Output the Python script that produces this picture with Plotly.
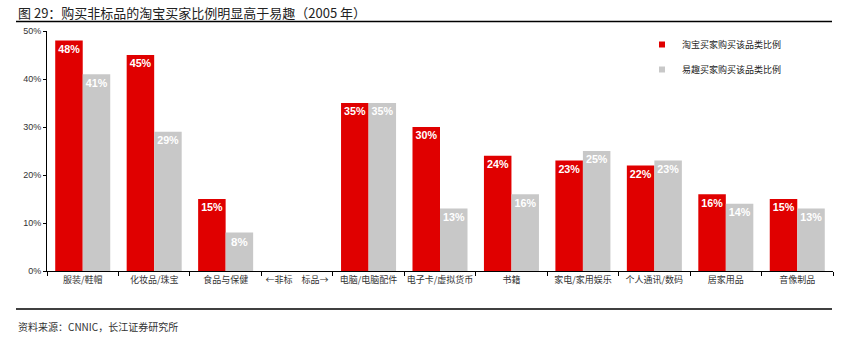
import plotly.graph_objects as go

categories = ["服装/鞋帽", "化妆品/珠宝", "食品与保健", "←非标　标品→", "电脑/电脑配件",
              "电子卡/虚拟货币", "书籍", "家电/家用娱乐", "个人通讯/数码", "居家用品", "音像制品"]
taobao = [48, 45, 15, None, 35, 30, 24, 23, 22, 16, 15]
eachnet = [41, 29, 8, None, 35, 13, 16, 25, 23, 14, 13]
series_names = ["淘宝买家购买该品类比例", "易趣买家购买该品类比例"]
series_colors = ["#E00000", "#C8C8C8"]
y_ticks = [0, 10, 20, 30, 40, 50]
y_tick_labels = ["0%", "10%", "20%", "30%", "40%", "50%"]

FONT = "Liberation Sans, Noto Sans CJK SC, sans-serif"
CJK = "Noto Sans CJK SC, sans-serif"

PW = 786  # plot width px
PH = 240  # plot height px
L, T = 47, 31


def px_x(x):
    return (x - L) / PW


def px_y(y):
    return (T + PH - y) / PH


fig = go.Figure()
for vals, name, color, grp in zip([taobao, eachnet], series_names, series_colors, ["a", "b"]):
    labels = [("" if v is None else f"{v}%") for v in vals]
    fig.add_trace(go.Bar(
        x=categories, y=vals, name=name, showlegend=False,
        marker=dict(color=color, line=dict(width=0)),
        text=labels, texttemplate="%{text}", textposition="inside", insidetextanchor="end",
        textangle=0, cliponaxis=False,
        insidetextfont=dict(color="white", size=11.5, family="Liberation Sans, sans-serif", weight="bold"),
    ))
    fig.add_trace(go.Scatter(
        x=[None], y=[None], mode="markers", name=name, legendgroup=grp,
        marker=dict(symbol="square", size=6, color=color),
        showlegend=True,
    ))

fig.update_layout(
    width=851, height=344,
    margin=dict(l=L, r=851 - L - PW, t=T, b=344 - T - PH),
    paper_bgcolor="white", plot_bgcolor="white",
    barmode="group", bargap=0.23, bargroupgap=0,
    font=dict(family=CJK, size=9, color="#333333"),
    showlegend=True,
    legend=dict(x=px_x(642), y=px_y(30), xanchor="left", yanchor="top",
                font=dict(size=9, color="#222222", family=CJK),
                traceorder="grouped", tracegroupgap=6,
                itemwidth=30, bgcolor="rgba(0,0,0,0)"),
    xaxis=dict(type="category", showline=True, linecolor="#000000", linewidth=1,
               ticks="outside", tickson="boundaries", ticklen=4, tickcolor="#000000",
               tickangle=0,
               tickfont=dict(size=9, color="#333333", family=CJK),
               showgrid=False),
    yaxis=dict(range=[0, 50], tickvals=y_ticks, ticktext=y_tick_labels,
               showline=True, linecolor="#000000", linewidth=1,
               ticks="outside", ticklen=3, tickcolor="#000000",
               tickfont=dict(size=9, color="#333333", family=FONT),
               showgrid=False, zeroline=False),
)

fig.add_annotation(text="图 29：购买非标品的淘宝买家比例明显高于易趣（2005 年）",
                   xref="paper", yref="paper", x=px_x(16), y=px_y(12.5),
                   xanchor="left", yanchor="middle", showarrow=False,
                   font=dict(size=13, color="#222222", family=CJK))
fig.add_shape(type="line", xref="paper", yref="paper",
              x0=px_x(16), x1=px_x(832), y0=px_y(21.5), y1=px_y(21.5),
              line=dict(color="#000000", width=1.5))
fig.add_shape(type="line", xref="paper", yref="paper",
              x0=px_x(16), x1=px_x(832), y0=px_y(309), y1=px_y(309),
              line=dict(color="#000000", width=1.5))
fig.add_annotation(text="资料来源：CNNIC，长江证券研究所",
                   xref="paper", yref="paper", x=px_x(16), y=px_y(326),
                   xanchor="left", yanchor="middle", showarrow=False,
                   font=dict(size=10, color="#333333", family=CJK))

fig.write_html("out.html")
